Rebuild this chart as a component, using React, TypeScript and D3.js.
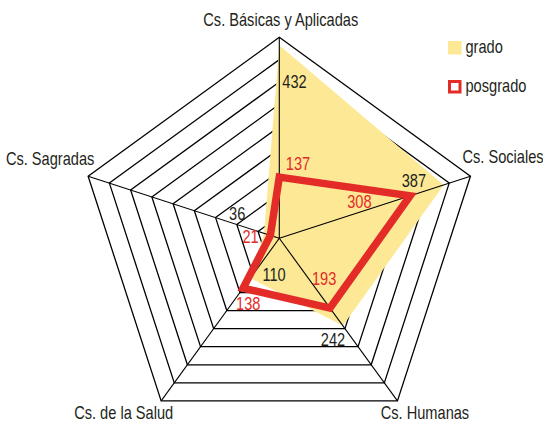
import React from 'react';
import * as d3 from 'd3';

// axes, clockwise from the top
const axes = [
  'Cs. Básicas y Aplicadas',
  'Cs. Sociales',
  'Cs. Humanas',
  'Cs. de la Salud',
  'Cs. Sagradas',
];
const grado = [432, 387, 242, 110, 36];
const posgrado = [137, 308, 193, 138, 21];
const ringValues = [50, 100, 150, 200, 250, 300, 350, 400, 450];

// label nudges (px) from each point
const gradoOffsets = [[3, 43], [-42, 2], [-22, 20], [12, 3], [-35, -13]];
const posgradoOffsets = [[6.5, -7], [-63, 12], [-18, -23], [-7, 22], [-28, 8]];
const axisOffsets = [[1.5, -11, 'middle'], [-8, -13.5, 'start'], [-16.7, 18, 'start'], [12, 18, 'end'], [6.2, -11.2, 'end']];

const width = 543;
const height = 421;
const cx = 279.3;
const cy = 238.3;
const radius = 201;

const YELLOW = '#fde896';
const RED = '#e32b27';
const INK = '#231f20';
const FONT = '"Liberation Sans", Arial, sans-serif';
const FS = 18;

// narrow text: Arial squeezed horizontally like Arial Narrow
const Label = ({ x, y, anchor = 'start', fill = INK, children }: any) => (
  <text transform={`translate(${x},${y}) scale(0.812,1)`} textAnchor={anchor}
    fontFamily={FONT} fontSize={FS} fill={fill}>{children}</text>
);

const App = () => {
  const r = d3.scaleLinear().domain([0, 450]).range([0, radius]);
  const angle = d3.scaleLinear().domain([0, axes.length]).range([0, 2 * Math.PI]);

  const point = (i: number, v: number): [number, number] => [
    cx + r(v) * Math.sin(angle(i)),
    cy - r(v) * Math.cos(angle(i)),
  ];

  const radial = d3.lineRadial<number>()
    .angle((_, i) => angle(i))
    .radius(d => r(d))
    .curve(d3.curveLinearClosed);

  return (
    <svg width={width} height={height} style={{ position: 'absolute', left: 0, top: 0, background: '#fff' }}>
      <g transform={`translate(${cx},${cy})`}>
        {/* grid rings */}
        {ringValues.map(v => (
          <path key={v} d={radial(axes.map(() => v)) || ''} fill="none" stroke="#000" strokeWidth={1.3} />
        ))}
        {/* posgrado fill hides the rings, grado on top */}
        <path d={radial(posgrado) || ''} fill="#fff" stroke="none" />
        <path d={radial(grado) || ''} fill={YELLOW} stroke="none" />
        {/* spokes */}
        {axes.map((a, i) => (
          <line key={a} x1={0} y1={0}
            x2={r(450) * Math.sin(angle(i))} y2={-r(450) * Math.cos(angle(i))}
            stroke="#000" strokeWidth={1.1} />
        ))}
        <path d={radial(posgrado) || ''} fill="none" stroke={RED} strokeWidth={7.5} strokeLinejoin="miter" />
      </g>

      {/* axis labels */}
      {axes.map((a, i) => {
        const [x, y] = point(i, 450);
        const [dx, dy, anchor] = axisOffsets[i];
        return (
          <Label key={a} x={x + (dx as number)} y={y + (dy as number)} anchor={anchor}>{a}</Label>
        );
      })}

      {/* value labels */}
      {grado.map((v, i) => {
        const [x, y] = point(i, v);
        return (
          <Label key={'g' + i} x={x + gradoOffsets[i][0]} y={y + gradoOffsets[i][1]}>{v}</Label>
        );
      })}
      {posgrado.map((v, i) => {
        const [x, y] = point(i, v);
        return (
          <Label key={'p' + i} x={x + posgradoOffsets[i][0]} y={y + posgradoOffsets[i][1]} fill={RED}>{v}</Label>
        );
      })}

      {/* legend */}
      <g transform="translate(448,41)">
        <rect x={0} y={0} width={13.5} height={13.5} fill={YELLOW} />
        <Label x={17.5} y={12}>grado</Label>
        <rect x={1.5} y={40.5} width={10.5} height={10.5} fill="#fff" stroke={RED} strokeWidth={3} />
        <Label x={17.5} y={51}>posgrado</Label>
      </g>
    </svg>
  );
};

export default App;
